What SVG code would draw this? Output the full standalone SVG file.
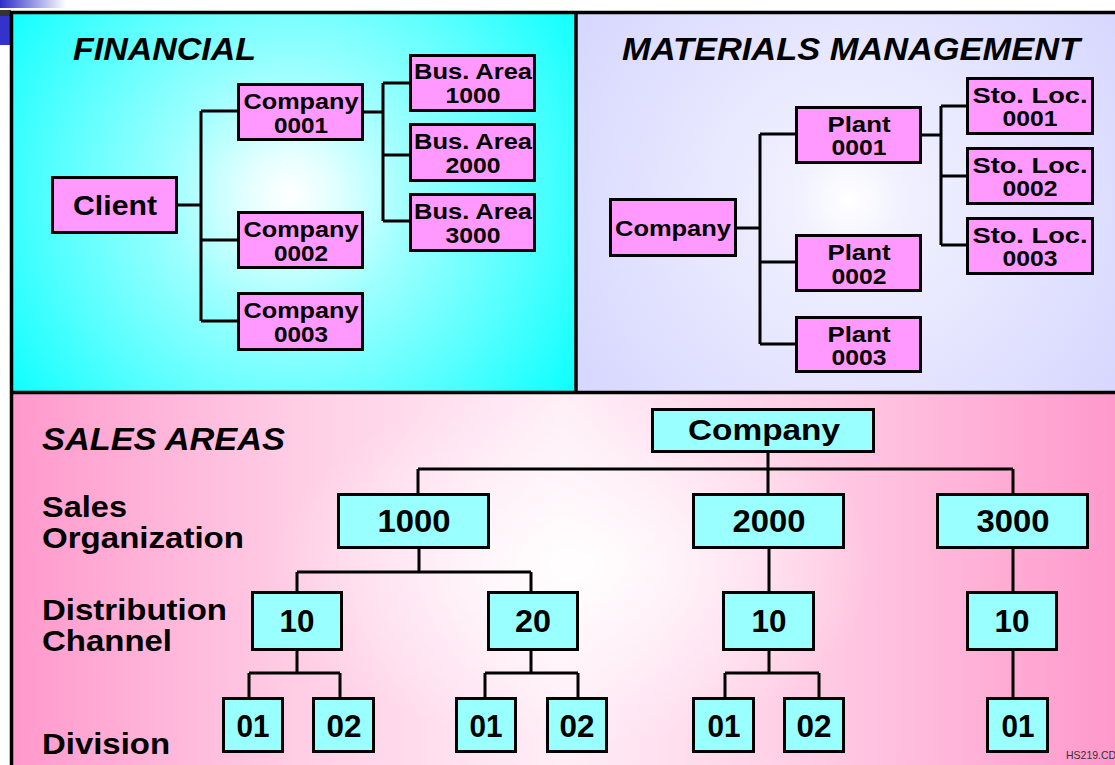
<svg xmlns="http://www.w3.org/2000/svg" width="1115" height="765" viewBox="0 0 1115 765">
  <defs>
    <radialGradient id="finBg" gradientUnits="userSpaceOnUse" cx="290" cy="195" r="340">
      <stop offset="0" stop-color="#FFFFFF"/>
      <stop offset="0.12" stop-color="#E6FFFF"/>
      <stop offset="0.35" stop-color="#A0FFFF"/>
      <stop offset="0.7" stop-color="#55FFFF"/>
      <stop offset="1" stop-color="#0FFFFF"/>
    </radialGradient>
    <radialGradient id="mmBg" gradientUnits="userSpaceOnUse" cx="850" cy="200" r="380">
      <stop offset="0" stop-color="#FFFFFF"/>
      <stop offset="0.15" stop-color="#F0F0FF"/>
      <stop offset="0.6" stop-color="#E0E0FF"/>
      <stop offset="1" stop-color="#D2D2FF"/>
    </radialGradient>
    <linearGradient id="salesBg" gradientUnits="userSpaceOnUse" x1="11" y1="0" x2="1115" y2="0">
      <stop offset="0" stop-color="#FF99CC"/>
      <stop offset="0.25" stop-color="#FFCCE4"/>
      <stop offset="0.5" stop-color="#FFEEF6"/>
      <stop offset="0.75" stop-color="#FFC8E2"/>
      <stop offset="1" stop-color="#FF99CC"/>
    </linearGradient>
    <radialGradient id="salesGlow" gradientUnits="userSpaceOnUse" cx="575" cy="565" r="300" gradientTransform="translate(575 565) scale(1 0.6) translate(-575 -565)">
      <stop offset="0" stop-color="#FFFFFF" stop-opacity="0.95"/>
      <stop offset="0.5" stop-color="#FFFFFF" stop-opacity="0.45"/>
      <stop offset="1" stop-color="#FFFFFF" stop-opacity="0"/>
    </radialGradient>
    <linearGradient id="blueFade" x1="0" y1="0" x2="1" y2="0">
      <stop offset="0" stop-color="#2E2EC8"/>
      <stop offset="1" stop-color="#FFFFFF"/>
    </linearGradient>
  </defs>
  <style>
    .pink { fill: #FF99FF; stroke: #000; stroke-width: 3; }
    .cyan { fill: #99FFFF; stroke: #000; stroke-width: 3; }
    .lbl { font-family: "Liberation Sans", Arial, sans-serif; font-weight: bold; fill: #000; }
    .nt { font-size: 22px; text-anchor: middle; }
    .big { font-size: 31px; text-anchor: middle; }
    .head { font-size: 31px; font-style: italic; }
    .side { font-size: 30px; }
    .wire { fill: none; stroke: #000; stroke-width: 3; }
  </style>

  <rect x="0" y="0" width="1115" height="765" fill="#FFFFFF"/>

  <!-- corner ornament -->
  <rect x="0" y="0" width="66" height="8" fill="url(#blueFade)"/>
  <rect x="0" y="10" width="11" height="6" fill="#333333"/>
  <rect x="0" y="16" width="10" height="29" fill="#3333CC"/>

  <!-- panels -->
  <rect x="11" y="12" width="565" height="380" fill="url(#finBg)"/>
  <rect x="576" y="12" width="539" height="380" fill="url(#mmBg)"/>
  <rect x="11" y="392" width="1104" height="373" fill="url(#salesBg)"/>
  <rect x="11" y="392" width="1104" height="373" fill="url(#salesGlow)"/>
  <path d="M11.5,765 V12.5 H1115 M576,12 V392 M11,392.5 H1115" fill="none" stroke="#000" stroke-width="3.5"/>

  <!-- section titles -->
  <text class="lbl head" x="73" y="60" textLength="183" lengthAdjust="spacingAndGlyphs">FINANCIAL</text>
  <text class="lbl head" x="622" y="60" textLength="458" lengthAdjust="spacingAndGlyphs">MATERIALS MANAGEMENT</text>
  <text class="lbl head" x="42" y="450" textLength="243" lengthAdjust="spacingAndGlyphs">SALES AREAS</text>

  <!-- level labels -->
  <text class="lbl side" x="42" y="517" textLength="85" lengthAdjust="spacingAndGlyphs">Sales</text>
  <text class="lbl side" x="42" y="548" textLength="202" lengthAdjust="spacingAndGlyphs">Organization</text>
  <text class="lbl side" x="42" y="620" textLength="185" lengthAdjust="spacingAndGlyphs">Distribution</text>
  <text class="lbl side" x="42" y="651" textLength="130" lengthAdjust="spacingAndGlyphs">Channel</text>
  <text class="lbl side" x="42" y="754" textLength="128" lengthAdjust="spacingAndGlyphs">Division</text>

  <!-- connectors -->
  <g id="connectors" class="wire">
    <path d="M178,205 H201 M201,111 V321 M201,111 H237 M201,240 H237 M201,321 H237"/>
    <path d="M364,112 H383 M383,83 V221 M383,83 H409 M383,155 H409 M383,221 H409"/>
    <path d="M737,228 H760 M760,134 V344 M760,134 H796 M760,262 H796 M760,344 H796"/>
    <path d="M922,135 H941 M941,106 V245 M941,106 H966 M941,176 H966 M941,245 H966"/>
    <path d="M768,452 V469 M418,469 H1013 M418,469 V493 M768,469 V493 M1013,469 V493"/>
    <path d="M419,548 V572 M297,572 H531 M297,572 V591 M531,572 V591"/>
    <path d="M297,651 V673 M249,673 H340 M249,673 V697 M340,673 V697"/>
    <path d="M531,651 V673 M485,673 H578 M485,673 V697 M578,673 V697"/>
    <path d="M769,548 V591 M769,651 V673 M725,673 H819 M725,673 V697 M819,673 V697"/>
    <path d="M1013,548 V591 M1013,651 V697"/>
  </g>

  <!-- financial structure -->
  <g id="fin-client"><rect class="pink" x="52.5" y="177.5" width="124" height="55"/><text class="lbl" x="115" y="215" font-size="27" text-anchor="middle" textLength="84" lengthAdjust="spacingAndGlyphs">Client</text></g>
  <g id="fin-company-0001"><rect class="pink" x="238.5" y="84.5" width="124" height="55"/><text class="lbl nt" x="301" y="109" textLength="115" lengthAdjust="spacingAndGlyphs">Company</text><text class="lbl nt" x="301" y="133" textLength="54" lengthAdjust="spacingAndGlyphs">0001</text></g>
  <g id="fin-company-0002"><rect class="pink" x="238.5" y="212.5" width="124" height="55"/><text class="lbl nt" x="301" y="237" textLength="115" lengthAdjust="spacingAndGlyphs">Company</text><text class="lbl nt" x="301" y="261" textLength="54" lengthAdjust="spacingAndGlyphs">0002</text></g>
  <g id="fin-company-0003"><rect class="pink" x="238.5" y="293.5" width="124" height="56"/><text class="lbl nt" x="301" y="318" textLength="115" lengthAdjust="spacingAndGlyphs">Company</text><text class="lbl nt" x="301" y="342" textLength="54" lengthAdjust="spacingAndGlyphs">0003</text></g>
  <g id="fin-busarea-1000"><rect class="pink" x="410.5" y="55.5" width="124" height="55"/><text class="lbl nt" x="473" y="79" textLength="118" lengthAdjust="spacingAndGlyphs">Bus. Area</text><text class="lbl nt" x="473" y="103" textLength="55" lengthAdjust="spacingAndGlyphs">1000</text></g>
  <g id="fin-busarea-2000"><rect class="pink" x="410.5" y="124.5" width="124" height="56"/><text class="lbl nt" x="473" y="149" textLength="118" lengthAdjust="spacingAndGlyphs">Bus. Area</text><text class="lbl nt" x="473" y="173" textLength="55" lengthAdjust="spacingAndGlyphs">2000</text></g>
  <g id="fin-busarea-3000"><rect class="pink" x="410.5" y="194.5" width="124" height="56"/><text class="lbl nt" x="473" y="219" textLength="118" lengthAdjust="spacingAndGlyphs">Bus. Area</text><text class="lbl nt" x="473" y="243" textLength="55" lengthAdjust="spacingAndGlyphs">3000</text></g>

  <!-- materials management structure -->
  <g id="mm-company"><rect class="pink" x="610.5" y="199.5" width="125" height="56"/><text class="lbl nt" x="673" y="236" textLength="116" lengthAdjust="spacingAndGlyphs">Company</text></g>
  <g id="mm-plant-0001"><rect class="pink" x="796.5" y="107.5" width="124" height="55"/><text class="lbl nt" x="859" y="132" textLength="63" lengthAdjust="spacingAndGlyphs">Plant</text><text class="lbl nt" x="859" y="155" textLength="55" lengthAdjust="spacingAndGlyphs">0001</text></g>
  <g id="mm-plant-0002"><rect class="pink" x="796.5" y="235.5" width="124" height="55"/><text class="lbl nt" x="859" y="260" textLength="63" lengthAdjust="spacingAndGlyphs">Plant</text><text class="lbl nt" x="859" y="284" textLength="55" lengthAdjust="spacingAndGlyphs">0002</text></g>
  <g id="mm-plant-0003"><rect class="pink" x="796.5" y="317.5" width="124" height="54"/><text class="lbl nt" x="859" y="342" textLength="63" lengthAdjust="spacingAndGlyphs">Plant</text><text class="lbl nt" x="859" y="365" textLength="55" lengthAdjust="spacingAndGlyphs">0003</text></g>
  <g id="mm-sloc-0001"><rect class="pink" x="967.5" y="78.5" width="125" height="55"/><text class="lbl nt" x="1030" y="103" textLength="115" lengthAdjust="spacingAndGlyphs">Sto. Loc.</text><text class="lbl nt" x="1030" y="126" textLength="55" lengthAdjust="spacingAndGlyphs">0001</text></g>
  <g id="mm-sloc-0002"><rect class="pink" x="967.5" y="148.5" width="125" height="55"/><text class="lbl nt" x="1030" y="173" textLength="115" lengthAdjust="spacingAndGlyphs">Sto. Loc.</text><text class="lbl nt" x="1030" y="196" textLength="55" lengthAdjust="spacingAndGlyphs">0002</text></g>
  <g id="mm-sloc-0003"><rect class="pink" x="967.5" y="218.5" width="125" height="55"/><text class="lbl nt" x="1030" y="243" textLength="115" lengthAdjust="spacingAndGlyphs">Sto. Loc.</text><text class="lbl nt" x="1030" y="266" textLength="55" lengthAdjust="spacingAndGlyphs">0003</text></g>

  <!-- sales area structure -->
  <g id="sa-company"><rect class="cyan" x="652.5" y="409.5" width="221" height="42"/><text class="lbl" x="764" y="440" font-size="30" text-anchor="middle" textLength="152" lengthAdjust="spacingAndGlyphs">Company</text></g>
  <g id="sa-org-1000"><rect class="cyan" x="338.5" y="494.5" width="150" height="53"/><text class="lbl big" x="414" y="532" textLength="73" lengthAdjust="spacingAndGlyphs">1000</text></g>
  <g id="sa-org-2000"><rect class="cyan" x="693.5" y="494.5" width="150" height="53"/><text class="lbl big" x="769" y="532" textLength="73" lengthAdjust="spacingAndGlyphs">2000</text></g>
  <g id="sa-org-3000"><rect class="cyan" x="937.5" y="494.5" width="150" height="53"/><text class="lbl big" x="1013" y="532" textLength="73" lengthAdjust="spacingAndGlyphs">3000</text></g>
  <g id="sa-dc-1000-10"><rect class="cyan" x="252.5" y="592.5" width="89" height="57"/><text class="lbl big" x="297" y="632" textLength="35" lengthAdjust="spacingAndGlyphs">10</text></g>
  <g id="sa-dc-1000-20"><rect class="cyan" x="488.5" y="592.5" width="89" height="57"/><text class="lbl big" x="533" y="632" textLength="36" lengthAdjust="spacingAndGlyphs">20</text></g>
  <g id="sa-dc-2000-10"><rect class="cyan" x="723.5" y="592.5" width="90" height="57"/><text class="lbl big" x="769" y="632" textLength="35" lengthAdjust="spacingAndGlyphs">10</text></g>
  <g id="sa-dc-3000-10"><rect class="cyan" x="967.5" y="592.5" width="89" height="57"/><text class="lbl big" x="1012" y="632" textLength="35" lengthAdjust="spacingAndGlyphs">10</text></g>
  <g id="sa-div-1000-10-01"><rect class="cyan" x="223.5" y="698.5" width="59" height="53"/><text class="lbl big" x="253" y="737" textLength="33" lengthAdjust="spacingAndGlyphs">01</text></g>
  <g id="sa-div-1000-10-02"><rect class="cyan" x="313.5" y="698.5" width="60" height="53"/><text class="lbl big" x="344" y="737" textLength="35" lengthAdjust="spacingAndGlyphs">02</text></g>
  <g id="sa-div-1000-20-01"><rect class="cyan" x="456.5" y="698.5" width="59" height="53"/><text class="lbl big" x="486" y="737" textLength="33" lengthAdjust="spacingAndGlyphs">01</text></g>
  <g id="sa-div-1000-20-02"><rect class="cyan" x="547.5" y="698.5" width="59" height="53"/><text class="lbl big" x="577" y="737" textLength="35" lengthAdjust="spacingAndGlyphs">02</text></g>
  <g id="sa-div-2000-10-01"><rect class="cyan" x="693.5" y="698.5" width="60" height="53"/><text class="lbl big" x="724" y="737" textLength="33" lengthAdjust="spacingAndGlyphs">01</text></g>
  <g id="sa-div-2000-10-02"><rect class="cyan" x="784.5" y="698.5" width="59" height="53"/><text class="lbl big" x="814" y="737" textLength="35" lengthAdjust="spacingAndGlyphs">02</text></g>
  <g id="sa-div-3000-10-01"><rect class="cyan" x="987.5" y="698.5" width="60" height="53"/><text class="lbl big" x="1018" y="737" textLength="33" lengthAdjust="spacingAndGlyphs">01</text></g>

  <text x="1066" y="759" font-family="Liberation Sans, Arial, sans-serif" font-size="10.5" fill="#333333">HS219.CD</text>
</svg>
